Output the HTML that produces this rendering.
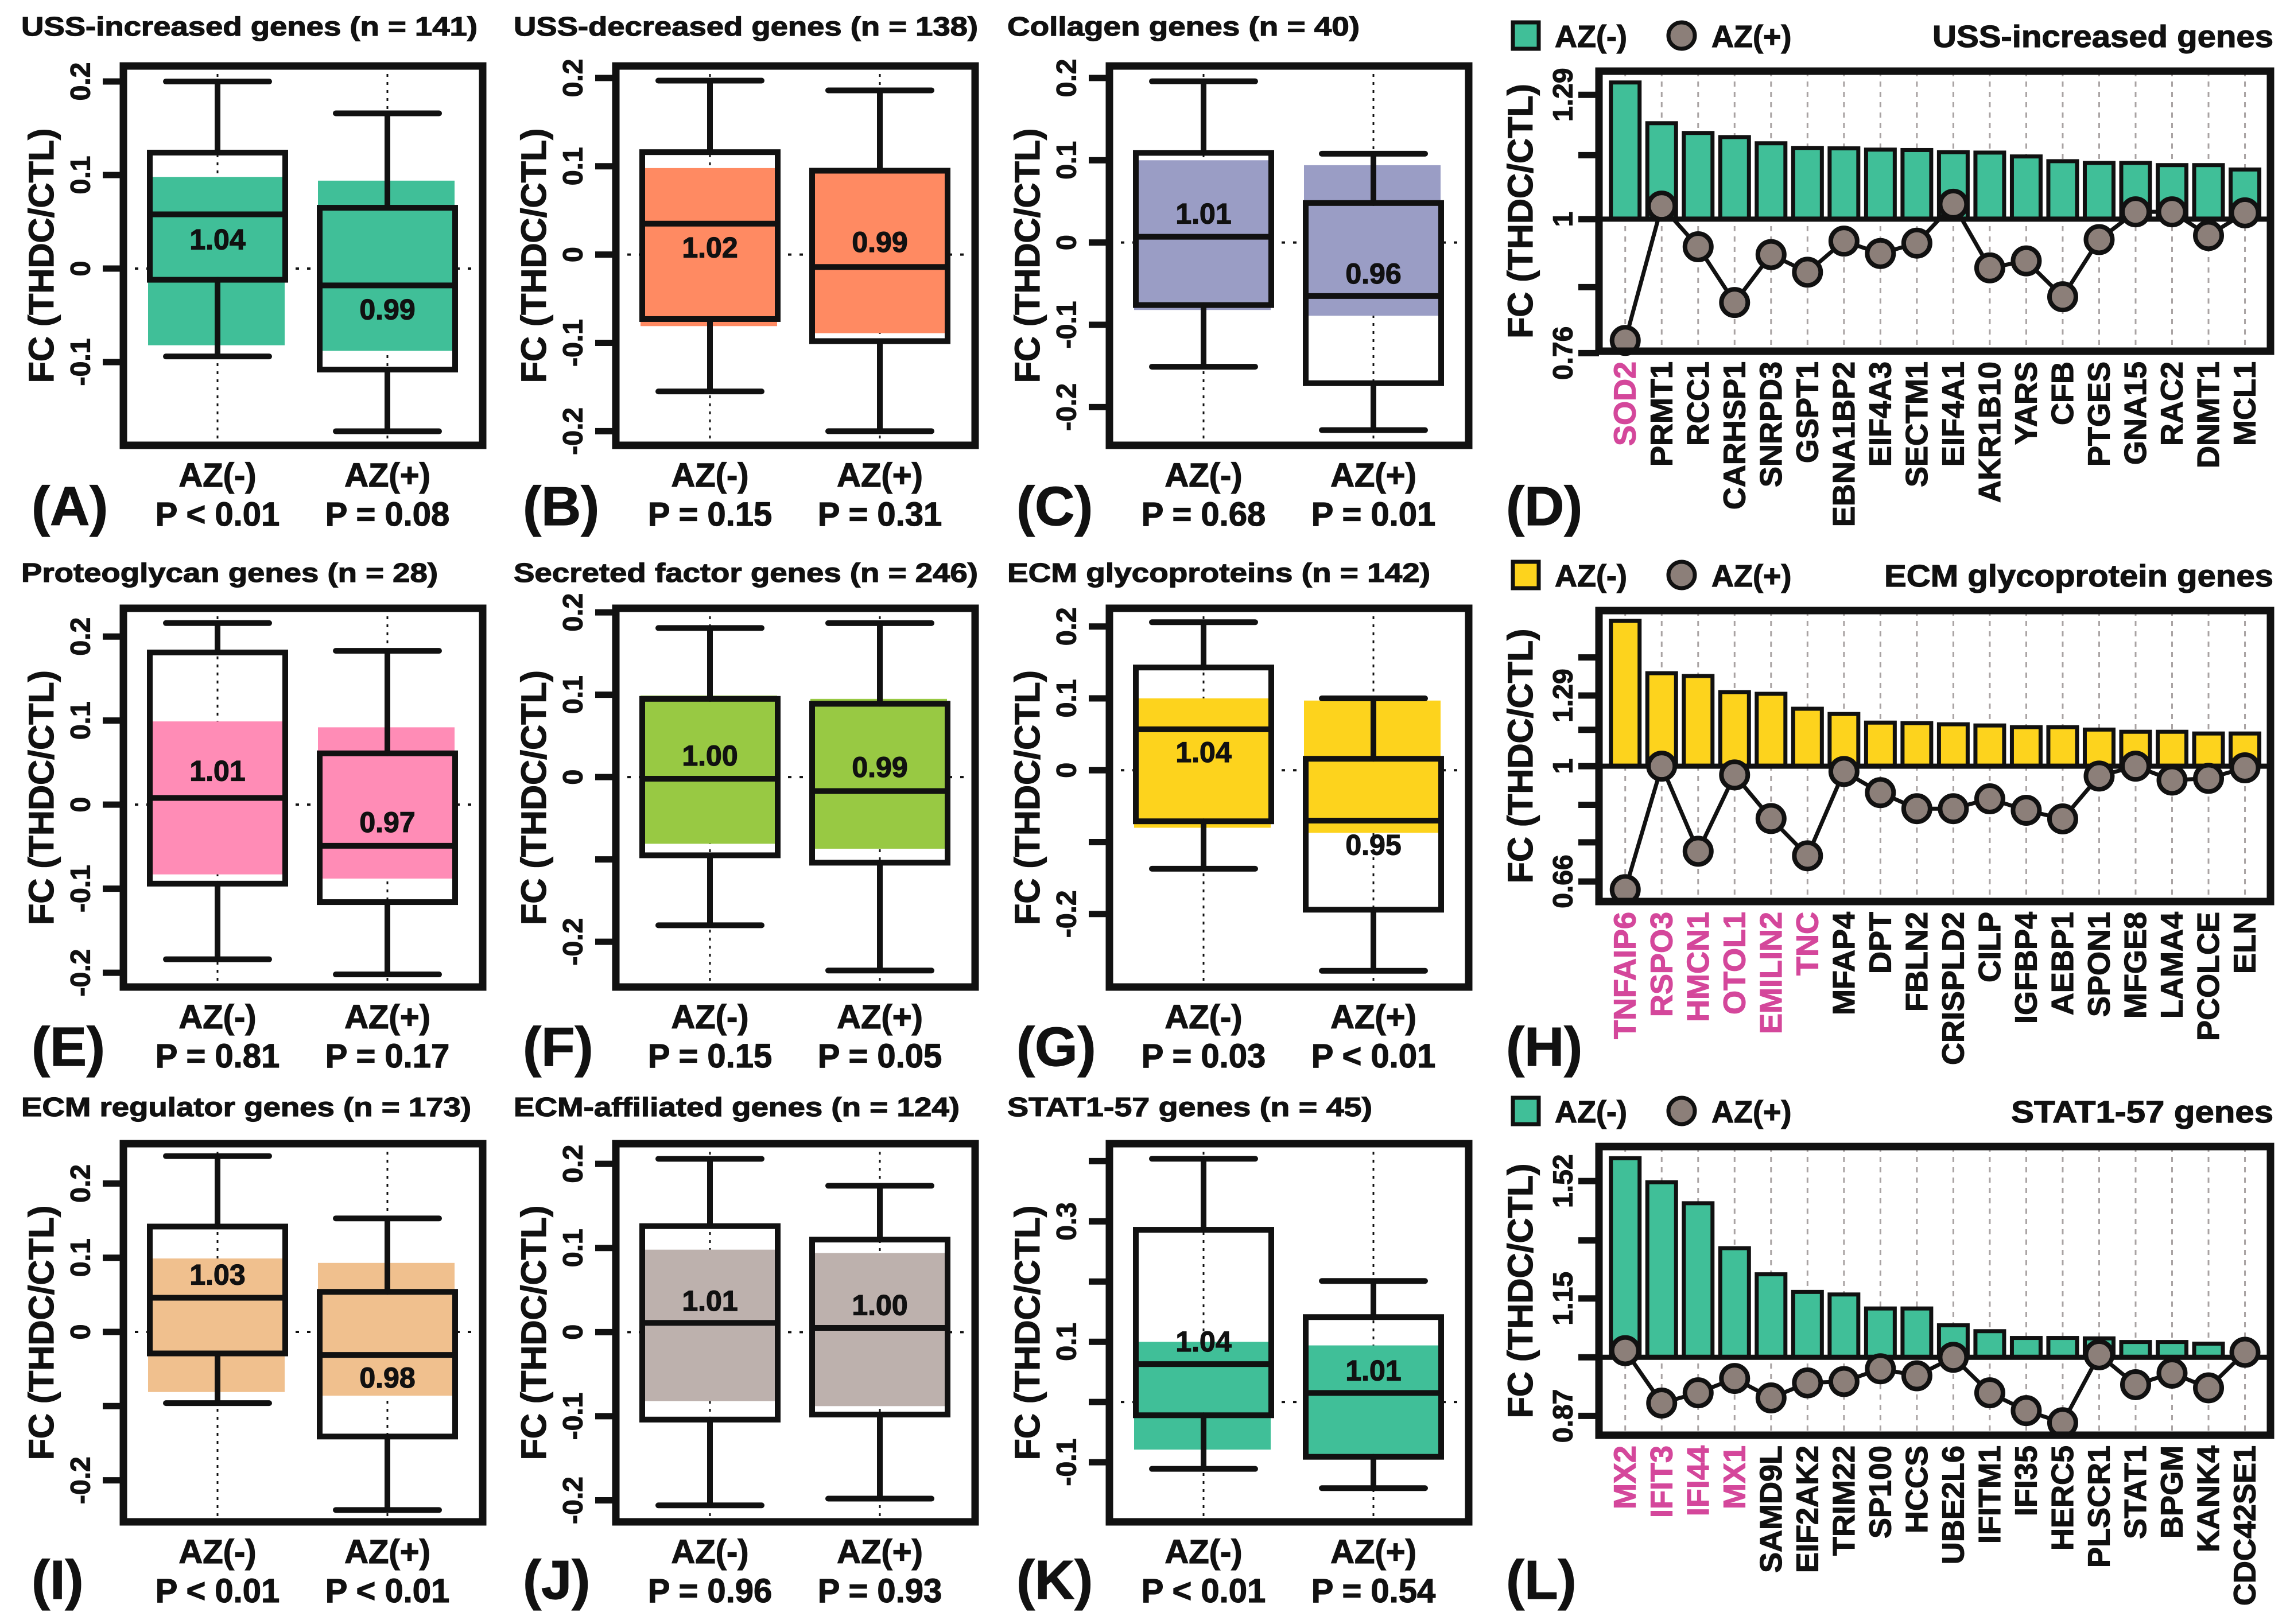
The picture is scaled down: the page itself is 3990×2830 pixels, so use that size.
<!DOCTYPE html>
<html><head><meta charset="utf-8"><title>FC panels</title>
<style>html,body{margin:0;padding:0;background:#fff}svg{display:block}text{font-family:"Liberation Sans",Arial,sans-serif;font-weight:bold;fill:#111;stroke:#111;stroke-width:1.2px}</style>
</head><body>
<svg id="fig" xmlns="http://www.w3.org/2000/svg" width="3990" height="2830" viewBox="0 0 3990 2830"></svg>
<script>
// ---------- Box panel data (panels A,B,C,E,F,G,I,J,K; groups AZ(-), AZ(+)) ----------
const boxIds = ['A','B','C','E','F','G','I','J','K'];
const boxTitles = ['USS-increased genes (n = 141)','USS-decreased genes (n = 138)','Collagen genes (n = 40)','Proteoglycan genes (n = 28)','Secreted factor genes (n = 246)','ECM glycoproteins (n = 142)','ECM regulator genes (n = 173)','ECM-affiliated genes (n = 124)','STAT1-57 genes (n = 45)'];
const groupNames = ['AZ(-)','AZ(+)'];
const whiskHi = [[0.2,0.166],[0.197,0.186],[0.196,0.108],[0.216,0.183],[0.181,0.187],[0.206,0.1],[0.237,0.153],[0.206,0.174],[0.404,0.201]];
const q3 = [[0.124,0.065],[0.116,0.095],[0.109,0.048],[0.181,0.061],[0.095,0.089],[0.143,0.016],[0.142,0.054],[0.126,0.110],[0.286,0.141]];
const med = [[0.058,-0.018],[0.035,-0.014],[0.007,-0.065],[0.008,-0.049],[-0.002,-0.017],[0.057,-0.070],[0.046,-0.031],[0.011,0.005],[0.063,0.015]];
const q1 = [[-0.012,-0.108],[-0.073,-0.098],[-0.076,-0.171],[-0.094,-0.116],[-0.095,-0.104],[-0.071,-0.194],[-0.029,-0.141],[-0.104,-0.098],[-0.022,-0.091]];
const whiskLo = [[-0.094,-0.174],[-0.155,-0.2],[-0.151,-0.228],[-0.184,-0.202],[-0.180,-0.235],[-0.137,-0.279],[-0.096,-0.240],[-0.206,-0.198],[-0.111,-0.143]];
const shadeHi = [[0.098,0.094],[0.098,0.094],[0.1,0.094],[0.099,0.092],[0.099,0.095],[0.1,0.097],[0.099,0.093],[0.098,0.094],[0.1,0.094]];
const shadeLo = [[-0.082,-0.088],[-0.081,-0.089],[-0.082,-0.089],[-0.083,-0.088],[-0.081,-0.087],[-0.080,-0.087],[-0.081,-0.086],[-0.082,-0.088],[-0.079,-0.091]];
const fcLabels = [['1.04','0.99'],['1.02','0.99'],['1.01','0.96'],['1.01','0.97'],['1.00','0.99'],['1.04','0.95'],['1.03','0.98'],['1.01','1.00'],['1.04','1.01']];
const fcLabelAt = [[0.031,-0.044],[0.008,0.014],[0.035,-0.038],[0.040,-0.021],[0.026,0.012],[0.025,-0.104],[0.077,-0.062],[0.037,0.032],[0.1,0.052]];
const pLabels = [['P < 0.01','P = 0.08'],['P = 0.15','P = 0.31'],['P = 0.68','P = 0.01'],['P = 0.81','P = 0.17'],['P = 0.15','P = 0.05'],['P = 0.03','P < 0.01'],['P < 0.01','P < 0.01'],['P = 0.96','P = 0.93'],['P < 0.01','P = 0.54']];
const yDomain = [[0.2166,-0.189],[0.2136,-0.216],[0.2146,-0.2465],[0.2336,-0.217],[0.205,-0.255],[0.2254,-0.3016],[0.2537,-0.256],[0.224,-0.2256],[0.429,-0.199]];
const tickVals = [[0.2,0.1,0,-0.1],[0.2,0.1,0,-0.1,-0.2],[0.2,0.1,0,-0.1,-0.2],[0.2,0.1,0,-0.1,-0.2],[0.2,0.1,0,-0.1,-0.2],[0.2,0.1,0,-0.1,-0.2],[0.2,0.1,0,-0.1,-0.2],[0.2,0.1,0,-0.1,-0.2],[0.4,0.3,0.2,0.1,0,-0.1]];
const tickLabels = [['0.2','0.1','0','-0.1'],['0.2','0.1','0','-0.1','-0.2'],['0.2','0.1','0','-0.1','-0.2'],['0.2','0.1','0','-0.1','-0.2'],['0.2','0.1','0','','-0.2'],['0.2','0.1','0','','-0.2'],['0.2','0.1','0','','-0.2'],['0.2','0.1','0','-0.1','-0.2'],['','0.3','','0.1','','-0.1']];
const boxColors = ['#40bf98','#ff8a62','#9a9dc5','#ff8cb6','#98c943','#fdd31d','#f0c08e','#bdb1ad','#40bf98'];

// ---------- Bar panel data (D, H, L) ----------
const barIds = ['D','H','L'];
const barTitles = ['USS-increased genes','ECM glycoprotein genes','STAT1-57 genes'];
const genesD = ['SOD2','PRMT1','RCC1','CARHSP1','SNRPD3','GSPT1','EBNA1BP2','EIF4A3','SECTM1','EIF4A1','AKR1B10','YARS','CFB','PTGES','GNA15','RAC2','DNMT1','MCL1'];
const azMinusD = [1.323,1.217,1.193,1.183,1.168,1.157,1.156,1.153,1.152,1.147,1.146,1.137,1.126,1.122,1.122,1.117,1.117,1.107];
const azPlusD = [0.78,1.027,0.945,0.843,0.93,0.897,0.956,0.932,0.952,1.031,0.905,0.918,0.853,0.959,1.015,1.015,0.967,1.013];
const highlightD = ['SOD2'];
const genesH = ['TNFAIP6','RSPO3','HMCN1','OTOL1','EMILIN2','TNC','MFAP4','DPT','FBLN2','CRISPLD2','CILP','IGFBP4','AEBP1','SPON1','MFGE8','LAMA4','PCOLCE','ELN'];
const azMinusH = [1.688,1.398,1.384,1.306,1.298,1.230,1.207,1.170,1.168,1.163,1.158,1.151,1.151,1.141,1.132,1.132,1.125,1.125];
const azPlusH = [0.641,1.0,0.736,0.969,0.828,0.724,0.981,0.909,0.858,0.858,0.889,0.853,0.827,0.965,1.0,0.951,0.957,0.994];
const highlightH = ['TNFAIP6','RSPO3','HMCN1','OTOL1','EMILIN2','TNC'];
const genesL = ['MX2','IFIT3','IFI44','MX1','SAMD9L','EIF2AK2','TRIM22','SP100','HCCS','UBE2L6','IFITM1','IFI35','HERC5','PLSCR1','STAT1','BPGM','KANK4','CDC42SE1'];
const azMinusL = [1.605,1.516,1.442,1.296,1.218,1.168,1.161,1.123,1.123,1.079,1.064,1.047,1.047,1.046,1.037,1.037,1.033,1.0];
const azPlusL = [1.016,0.897,0.919,0.951,0.908,0.941,0.944,0.973,0.957,1.0,0.919,0.881,0.856,1.006,0.937,0.963,0.930,1.012];
const highlightL = ['MX2','IFIT3','IFI44','MX1'];
const barDomain = [[1.354,0.763],[1.752,0.614],[1.65,0.831]];
const barTickVals = [[1.29,1.14,1,0.87,0.76],[1.48,1.29,1.14,1,0.87,0.76,0.66],[1.52,1.32,1.15,1,0.87]];
const barTickLabels = [['1.29','','1','','0.76'],['','1.29','','1','','','0.66'],['1.52','','1.15','','0.87']];
const barColors = ['#40bf98','#fdd31d','#40bf98'];

// ---------- layout ----------
const NS = 'http://www.w3.org/2000/svg';
const svg = document.getElementById('fig');
const colLeft = [215,1073,1933];
const rowTop = [115,1060,1993];
const rowBottom = [776,1720,2652];
const titleBase = [62,1014,1945];
const letterBase = [915,1857,2786];
const letterX = [55,911,1771,2624];
const titleW = [795,809,614,726,809,737,784,777,636];
const boxW = 626;
function el(tag, attrs, parent){const e=document.createElementNS(NS,tag);for(const k in attrs)e.setAttribute(k,attrs[k]);(parent||svg).appendChild(e);return e;}
function txt(s, attrs, parent){const e=el('text',attrs,parent);e.textContent=s;return e;}

boxIds.forEach((id,p)=>{
  const col = p%3, row = Math.floor(p/3);
  const L = colLeft[col], T = rowTop[row], B = rowBottom[row], R = L+boxW;
  const g = el('g',{});
  
  
  const [d0,d1] = yDomain[p];
  const y = v => T + (d0 - v)/(d0 - d1)*(B - T);
  const cx = [L+164, L+460];
  const t = txt(boxTitles[p],{x:L-178,y:titleBase[row],'font-size':46,textLength:titleW[p],lengthAdjust:'spacingAndGlyphs'},g);
  
  
  const zl = el('line',{x1:L,x2:R,y1:y(0),y2:y(0),stroke:'#111','stroke-width':4,'stroke-dasharray':'6 14'},g);
  
  
  cx.forEach(c=>{const v=el('line',{x1:c,x2:c,y1:T,y2:B,stroke:'#111','stroke-width':3,'stroke-dasharray':'5 9'},g);
    
    });
  for(let k=0;k<2;k++){
    const c = cx[k], hw = 118, cap = 90;
    const sh = el('rect',{x:c-hw-3,y:y(shadeHi[p][k]),width:2*hw+2,height:y(shadeLo[p][k])-y(shadeHi[p][k]),fill:boxColors[p]},g);
    
    
    const wk = el('path',{d:`M${c},${y(whiskHi[p][k])}V${y(q3[p][k])}M${c},${y(q1[p][k])}V${y(whiskLo[p][k])}M${c-cap},${y(whiskHi[p][k])}H${c+cap}M${c-cap},${y(whiskLo[p][k])}H${c+cap}`,stroke:'#111','stroke-width':10,fill:'none','stroke-linecap':'round'},g);
    
    
    const bx = el('rect',{x:c-hw,y:y(q3[p][k]),width:2*hw,height:y(q1[p][k])-y(q3[p][k]),fill:'none',stroke:'#111','stroke-width':10},g);
    
    
    const md = el('line',{x1:c-hw,x2:c+hw,y1:y(med[p][k]),y2:y(med[p][k]),stroke:'#111','stroke-width':10},g);
    
    
    const fl = txt(fcLabels[p][k],{x:c,y:y(fcLabelAt[p][k]),'text-anchor':'middle','dominant-baseline':'central','font-size':50},g);
    
    
    const gl = txt(groupNames[k],{x:c,y:B+72,'text-anchor':'middle','font-size':58},g);
    
    
    const pl = txt(pLabels[p][k],{x:c,y:B+140,'text-anchor':'middle','font-size':58},g);
    
    
  }
  const fr = el('rect',{x:L,y:T,width:boxW,height:B-T,fill:'none',stroke:'#111','stroke-width':13},g);
  
  
  tickVals[p].forEach((v,i)=>{
    const tk = el('line',{x1:L-36,x2:L,y1:y(v),y2:y(v),stroke:'#111','stroke-width':11},g);
    
    
    if(tickLabels[p][i]){
      const tl = txt(tickLabels[p][i],{x:0,y:0,'text-anchor':'middle','dominant-baseline':'central','font-size':48,transform:`translate(${L-74},${y(v)}) rotate(-90)`},g);
      
      
    }
  });
  const yt = txt('FC (THDC/CTL)',{x:0,y:0,'text-anchor':'middle','dominant-baseline':'central','font-size':61,transform:`translate(${L-143},${(T+B)/2}) rotate(-90)`},g);
  
  
  const pl = txt('('+id+')',{x:letterX[col],y:letterBase[row],'font-size':96},g);
  
  
});

// ---------- bar panels ----------
const barGenes = [genesD,genesH,genesL];
const barMinus = [azMinusD,azMinusH,azMinusL];
const barPlus = [azPlusD,azPlusH,azPlusL];
const barHL = [highlightD,highlightH,highlightL];
const bTop = [124,1064,1998], bBot = [612,1571,2501];
const bL = 2786, bR = 3956;
const barTitleW = [594,678,457];
barIds.forEach((id,p)=>{
  const T=bTop[p], B=bBot[p];
  const g = el('g',{});
  
  
  const l0=Math.log2(barDomain[p][0]), l1=Math.log2(barDomain[p][1]);
  const y = v => T + (l0-Math.log2(v))/(l0-l1)*(B-T);
  const genes = barGenes[p], n = genes.length;
  const step = (bR-bL)/(n+0.42);
  const x = i => bL + (i+0.72)*step;
  const ls = el('rect',{x:2636,y:T-85,width:45,height:46,fill:barColors[p],stroke:'#111','stroke-width':7},g);
  
  
  const lt1 = txt('AZ(-)',{x:2709,y:T-42,'font-size':54},g);
  
  
  const lc = el('circle',{cx:2930,cy:T-62,r:23,fill:'#8c7f79',stroke:'#111','stroke-width':7},g);
  
  
  const lt2 = txt('AZ(+)',{x:2982,y:T-42,'font-size':54},g);
  
  
  const tt = txt(barTitles[p],{x:3961,y:T-42,'text-anchor':'end','font-size':54,textLength:barTitleW[p],lengthAdjust:'spacingAndGlyphs'},g);
  
  
  genes.forEach((gn,i)=>{
    const gl = el('line',{x1:x(i),x2:x(i),y1:T,y2:B,stroke:'#a9a3a3','stroke-width':3,'stroke-dasharray':'9 9'},g);
    
    
  });
  barMinus[p].forEach((v,i)=>{
    if(v<=1) return;
    const b = el('rect',{x:x(i)-25,y:y(v),width:50,height:y(1)-y(v),fill:barColors[p],stroke:'#111','stroke-width':7},g);
    
    
  });
  const base = el('line',{x1:bL,x2:bR,y1:y(1),y2:y(1),stroke:'#111','stroke-width':9},g);
  
  
  const pts = barPlus[p].map((v,i)=>x(i)+','+y(v)).join(' ');
  const pl = el('polyline',{points:pts,fill:'none',stroke:'#111','stroke-width':7},g);
  
  
  barPlus[p].forEach((v,i)=>{
    const c = el('circle',{cx:x(i),cy:y(v),r:23,fill:'#8c7f79',stroke:'#111','stroke-width':8},g);
    
    
  });
  const fr = el('rect',{x:bL,y:T,width:bR-bL,height:B-T,fill:'none',stroke:'#111','stroke-width':13},g);
  
  
  barTickVals[p].forEach((v,i)=>{
    const tk = el('line',{x1:bL-36,x2:bL,y1:y(v),y2:y(v),stroke:'#111','stroke-width':11},g);
    
    
    if(barTickLabels[p][i]){
      const tl = txt(barTickLabels[p][i],{x:0,y:0,'text-anchor':'middle','dominant-baseline':'central','font-size':48,transform:`translate(${bL-62},${y(v)}) rotate(-90)`},g);
      
      
    }
  });
  const yt = txt('FC (THDC/CTL)',{x:0,y:0,'text-anchor':'middle','dominant-baseline':'central','font-size':61,transform:`translate(${bL-137},${(T+B)/2}) rotate(-90)`},g);
  
  
  genes.forEach((gn,i)=>{
    const hl = barHL[p].includes(gn);
    const t = txt(gn,{x:0,y:0,'text-anchor':'end','dominant-baseline':'central','font-size':54,transform:`translate(${x(i)},${B+18}) rotate(-90)`,style:hl?'fill:#d4479b;stroke:#d4479b':''},g);
    
    
  });
  const lt = txt('('+id+')',{x:letterX[3],y:letterBase[p],'font-size':96},g);
  
  
});
</script>
</body></html>
